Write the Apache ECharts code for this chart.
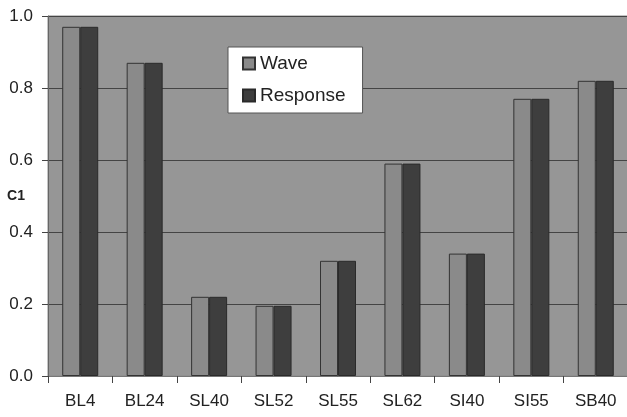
<!DOCTYPE html>
<html>
<head>
<meta charset="utf-8">
<script src="https://cdn.jsdelivr.net/npm/echarts@6/dist/echarts.min.js"></script>
<style>
html,body{margin:0;padding:0;background:#fff;}
#c{width:627px;height:417px;}
</style>
</head>
<body>
<div id="c"></div>
<script>
const categories = ['BL4','BL24','SL40','SL52','SL55','SL62','SI40','SI55','SB40'];
const waveValues = [0.97, 0.87, 0.22, 0.195, 0.32, 0.59, 0.34, 0.77, 0.82];
const responseValues = [0.97, 0.87, 0.22, 0.195, 0.32, 0.59, 0.34, 0.77, 0.82];
const yTicks = [0, 0.2, 0.4, 0.6, 0.8, 1.0];

const chart = echarts.init(document.getElementById('c'));
chart.setOption({
  animation: false,
  backgroundColor: '#ffffff',
  textStyle: { fontFamily: 'Liberation Sans, Arial, sans-serif' },
  grid: {
    left: 48, right: -1, top: 16, bottom: 41,
    containLabel: false,
    outerBoundsMode: 'none',
    show: true, backgroundColor: '#969696', borderColor: '#8a8a8a', borderWidth: 1
  },
  legend: {
    orient: 'vertical',
    left: 228, top: 47,
    backgroundColor: '#ffffff',
    borderColor: '#555555', borderWidth: 1,
    padding: [7, 17, 8, 14],
    itemWidth: 12, itemHeight: 12, itemGap: 13,
    icon: 'rect',
    textStyle: { fontSize: 19, color: '#222', fontFamily: 'Liberation Sans, Arial, sans-serif' },
    data: ['Wave', 'Response']
  },
  xAxis: {
    type: 'category',
    data: categories,
    boundaryGap: true,
    axisLine: { show: true, lineStyle: { color: '#777', width: 1 } },
    axisTick: { show: true, alignWithLabel: false, length: 7, lineStyle: { color: '#444' } },
    axisLabel: { fontSize: 17, color: '#222', margin: 17 }
  },
  yAxis: {
    type: 'value',
    min: 0, max: 1, interval: 0.2,
    name: 'C1',
    nameLocation: 'middle',
    nameRotate: 0,
    nameGap: 23,
    nameMoveOverlap: false,
    nameTextStyle: { fontSize: 14, fontWeight: 'bold', color: '#222', align: 'right', verticalAlign: 'middle' },
    axisLine: { show: true, lineStyle: { color: '#666', width: 1 } },
    axisTick: { show: true, inside: false, length: 6, lineStyle: { color: '#444' } },
    axisLabel: {
      fontSize: 17, color: '#222', margin: 15,
      formatter: v => {
        const t = yTicks.find(x => Math.abs(x - v) < 1e-9);
        return (t === undefined ? v : t).toFixed(1);
      }
    },
    splitLine: { show: true, lineStyle: { color: '#444', width: 1 } }
  },
  series: [
    {
      name: 'Wave', type: 'bar', data: waveValues,
      barWidth: 18, barGap: '0%',
      itemStyle: { color: '#8a8a8a', borderColor: '#333', borderWidth: 1 }
    },
    {
      name: 'Response', type: 'bar', data: responseValues,
      barWidth: 18, barGap: '0%',
      itemStyle: { color: '#3e3e3e', borderColor: '#2a2a2a', borderWidth: 1 }
    }
  ]
});
</script>
</body>
</html>
